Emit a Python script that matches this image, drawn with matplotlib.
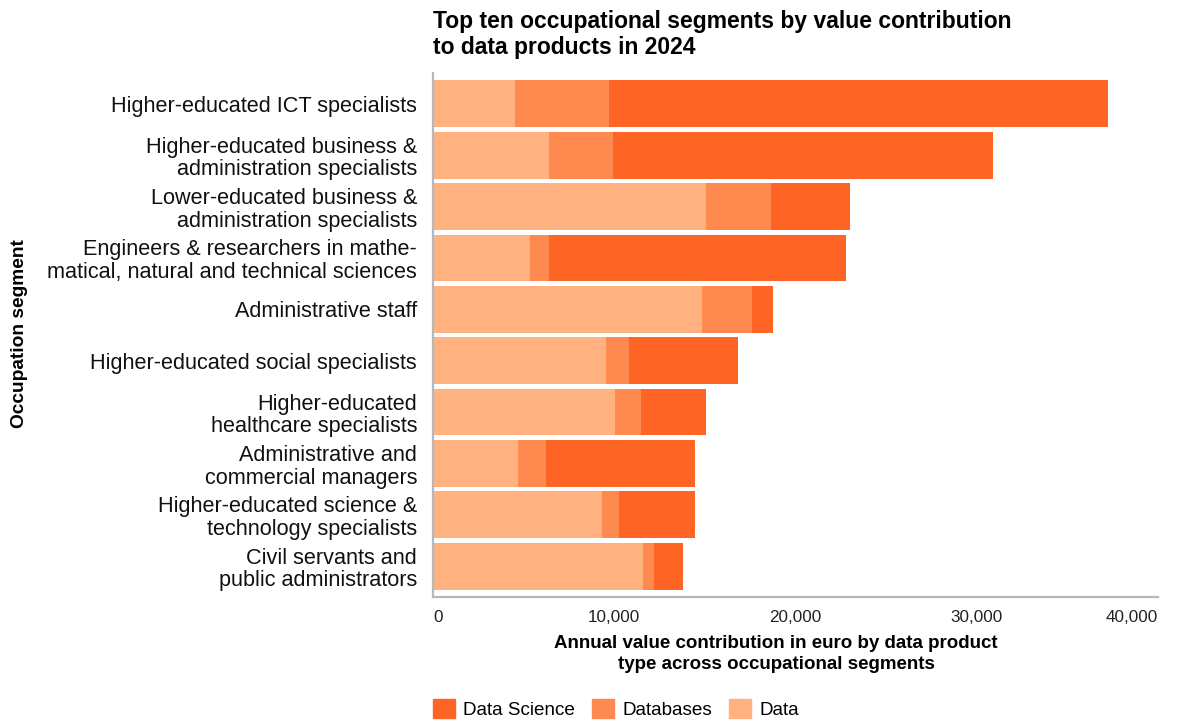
import matplotlib.pyplot as plt
from matplotlib.patches import Patch

plt.rcParams['font.family'] = ['Liberation Sans', 'DejaVu Sans']

# Occupational segments, top to bottom
segments = [
    "Higher-educated ICT specialists",
    "Higher-educated business &\nadministration specialists",
    "Lower-educated business &\nadministration specialists",
    "Engineers & researchers in mathe-\nmatical, natural and technical sciences",
    "Administrative staff",
    "Higher-educated social specialists",
    "Higher-educated\nhealthcare specialists",
    "Administrative and\ncommercial managers",
    "Higher-educated science &\ntechnology specialists",
    "Civil servants and\npublic administrators",
]

# Annual value contribution (euro) per data product type
data_vals = [4500, 6380, 15060, 5350, 14840, 9540, 10040, 4690, 9320, 11590]
databases_vals = [5230, 3530, 3590, 1050, 2760, 1270, 1440, 1540, 940, 600]
data_science_vals = [27510, 20980, 4360, 16390, 1160, 6020, 3580, 8230, 4200, 1600]

x_ticks = [0, 10000, 20000, 30000, 40000]

c_data = "#FFB27F"
c_db = "#FE8A4F"
c_ds = "#FE6423"

fig = plt.figure(figsize=(11.77, 7.22), dpi=100)
ax = fig.add_axes([433 / 1177, 1 - 597 / 722, 725 / 1177, 524 / 722])

y = list(range(len(segments)))
h = 0.91
left_db = data_vals
left_ds = [a + b for a, b in zip(data_vals, databases_vals)]

ax.barh(y, data_vals, height=h, color=c_data)
ax.barh(y, databases_vals, left=left_db, height=h, color=c_db)
ax.barh(y, data_science_vals, left=left_ds, height=h, color=c_ds)

ax.set_ylim(len(segments) - 0.4, -0.6)
ax.set_xlim(0, 40000)

ax.set_yticks(y)
ax.set_yticklabels(segments, fontsize=15.6, color="#111111", linespacing=1.1)
ax.set_xticks(x_ticks)
xlabels = ax.set_xticklabels([f"{v:,}" for v in x_ticks], fontsize=12.3, color="#222222")
xlabels[0].set_ha("left")
xlabels[-1].set_ha("right")
ax.tick_params(axis="both", length=0)
ax.tick_params(axis="y", pad=11.5)
ax.tick_params(axis="x", pad=9)

for side in ["top", "right"]:
    ax.spines[side].set_visible(False)
for side in ["left", "bottom"]:
    ax.spines[side].set_color("#b4b8c0")
    ax.spines[side].set_linewidth(1.6)

# Titles and axis captions
fig.text(433 / 1177, 1 - 10 / 722,
         "Top ten occupational segments by value contribution\nto data products in 2024",
         ha="left", va="top", fontsize=16.5, fontweight="bold", linespacing=1.15)
fig.text(776 / 1177, 1 - 635 / 722,
         "Annual value contribution in euro by data product\ntype across occupational segments",
         ha="center", va="top", fontsize=13.5, fontweight="bold", linespacing=1.3)
fig.text(20 / 1177, 1 - 334 / 722, "Occupation segment", rotation=90,
         ha="center", va="center", fontsize=13.8, fontweight="bold")

handles = [Patch(color=c_ds, label="Data Science"),
           Patch(color=c_db, label="Databases"),
           Patch(color=c_data, label="Data")]
fig.legend(handles=handles, loc="center left", bbox_to_anchor=(433 / 1177, 1 - 709 / 722),
           ncol=3, frameon=False, fontsize=13.6, handlelength=1.18, handleheight=1.18,
           handletextpad=0.42, columnspacing=0.9, borderpad=0, borderaxespad=0)

fig.savefig("out.png", dpi=100)
